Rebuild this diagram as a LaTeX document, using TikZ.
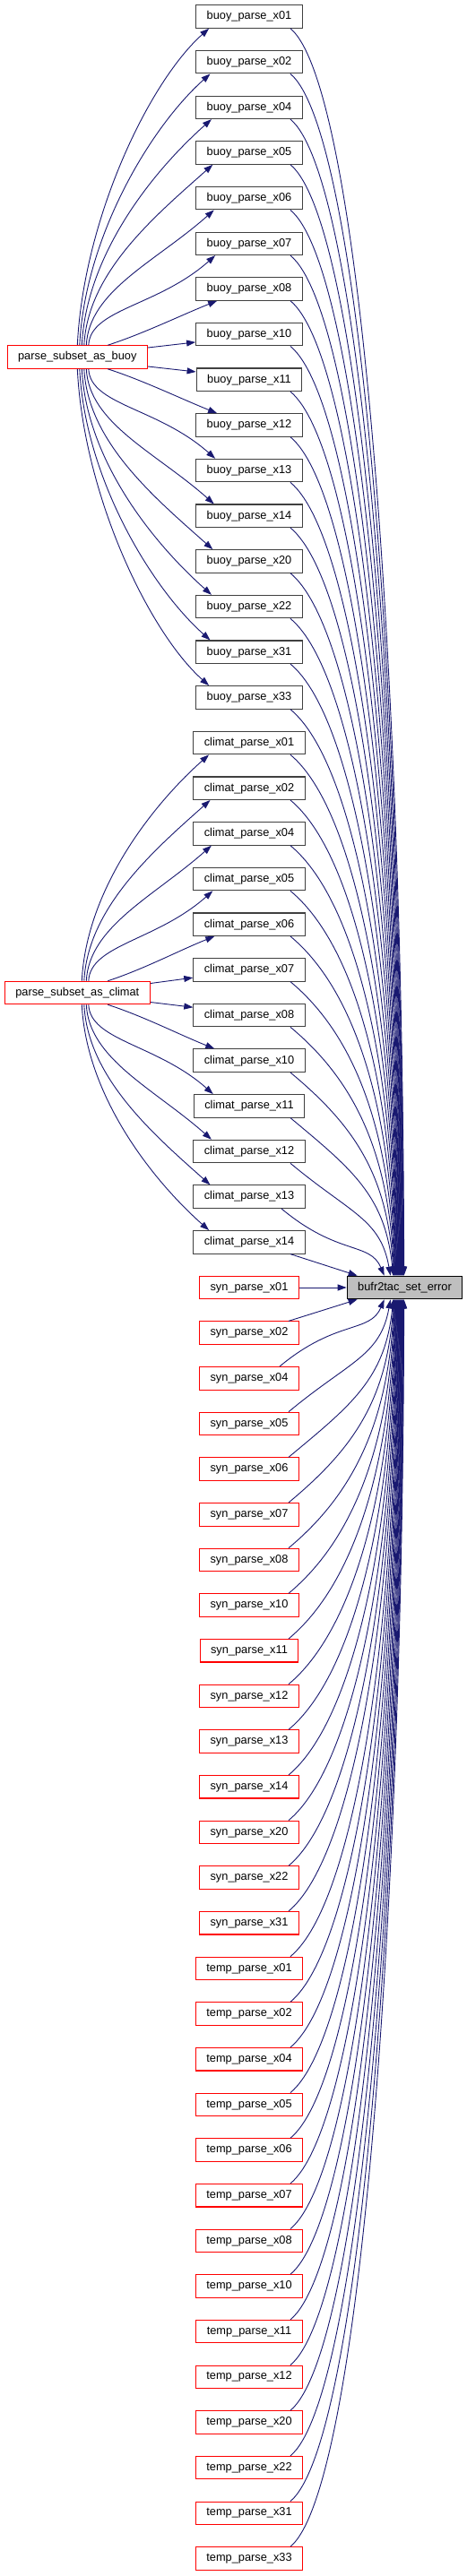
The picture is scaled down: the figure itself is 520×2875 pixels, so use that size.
\documentclass[tikz,border=0pt]{standalone}
\usepackage{fontspec}
\setmainfont{Liberation Sans}
\usetikzlibrary{arrows.meta,calc}
\definecolor{Edge}{HTML}{191970}
\definecolor{BoxLine}{HTML}{404040}
\definecolor{FnRed}{HTML}{FF0000}
\definecolor{SelFill}{HTML}{BFBFBF}
\tikzset{
  fn/.style={draw=BoxLine,line width=1.1pt,fill=white,text=black,minimum height=25.5pt,inner xsep=12pt,inner ysep=0pt,font=\fontsize{12.8}{15}\selectfont},
  fnred/.style={fn,draw=FnRed},
  fnsel/.style={fn,draw=black,fill=SelFill},
  call/.style={-{Triangle[length=10pt,width=7pt]},line width=0.9pt,draw=Edge}
}
\begin{document}
\begin{tikzpicture}[x=1pt,y=-1pt]
  \useasboundingbox (0,0) rectangle (520,2875);

  \foreach \n [count=\i from 0] in {01,02,04,05,06,07,08,10,11,12,13,14,20,22,31,33}
    \node[fn] (buoy\n) at (278,{18.5+50.66*\i}) {buoy\_parse\_x\n};
  \foreach \n [count=\i from 16] in {01,02,04,05,06,07,08,10,11,12,13,14}
    \node[fn] (climat\n) at (278,{18.5+50.66*\i}) {climat\_parse\_x\n};
  \foreach \n [count=\i from 28] in {01,02,04,05,06,07,08,10,11,12,13,14,20,22,31}
    \node[fnred] (syn\n) at (278,{18.5+50.66*\i}) {syn\_parse\_x\n};
  \foreach \n [count=\i from 43] in {01,02,04,05,06,07,08,10,11,12,20,22,31,33}
    \node[fnred] (temp\n) at (278,{18.5+50.66*\i}) {temp\_parse\_x\n};

  \node[fnred] (subbuoy) at (86.3,398.5) {parse\_subset\_as\_buoy};
  \node[fnred] (subclimat) at (86.3,1108) {parse\_subset\_as\_climat};
  \node[fnsel] (seterr) at (451.5,{18.5+50.66*28}) {bufr2tac\_set\_error};

  % parse_subset_as_buoy fan
  \foreach \n [count=\i] in {01,02,04,05,06,07} {
    \pgfmathsetmacro\dd{8.5-\i}
    \pgfmathsetmacro\sxo{(7.5-\dd)*2.5}
    \pgfmathsetmacro\exo{15+(7.5-\dd)*1.4}
    \pgfmathsetmacro\ddy{50.66*\dd-25.2}
    \pgfmathsetmacro\ddx{133+\exo-\sxo}
    \draw[call] ($(subbuoy.north)+(\sxo,0)$) .. controls +(0.02*\ddy,-0.4*\ddy) and +(-0.45*\ddx,0.4*\ddx) .. ($(buoy\n.south west)+(\exo,0)$);
  }
  \draw[call] ($(subbuoy.north)+(34,0)$) .. controls +(40,-13) and +(-40,16) .. ($(buoy08.south west)+(24,0)$);
  \draw[call] ($(subbuoy.east)+(0,-10.5)$) -- ($(buoy10.west)+(0,8.8)$);
  \draw[call] ($(subbuoy.east)+(0,10.5)$) -- ($(buoy11.west)+(0,-8.8)$);
  \draw[call] ($(subbuoy.south)+(34,0)$) .. controls +(40,13) and +(-40,-16) .. ($(buoy12.north west)+(24,0)$);
  \foreach \n [count=\i] in {13,14,20,22,31,33} {
    \pgfmathsetmacro\dd{1.5+\i}
    \pgfmathsetmacro\sxo{(7.5-\dd)*2.5}
    \pgfmathsetmacro\exo{15+(7.5-\dd)*1.4}
    \pgfmathsetmacro\ddy{50.66*\dd-25.2}
    \pgfmathsetmacro\ddx{133+\exo-\sxo}
    \draw[call] ($(subbuoy.south)+(\sxo,0)$) .. controls +(0.02*\ddy,0.4*\ddy) and +(-0.45*\ddx,-0.4*\ddx) .. ($(buoy\n.north west)+(\exo,0)$);
  }

  % parse_subset_as_climat fan
  \foreach \n [count=\i] in {01,02,04,05} {
    \pgfmathsetmacro\dd{6.5-\i}
    \pgfmathsetmacro\sxo{(7.5-\dd)*2.5}
    \pgfmathsetmacro\exo{15+(7.5-\dd)*1.4}
    \pgfmathsetmacro\ddy{50.66*\dd-25.2}
    \pgfmathsetmacro\ddx{130+\exo-\sxo}
    \draw[call] ($(subclimat.north)+(\sxo,0)$) .. controls +(0.02*\ddy,-0.4*\ddy) and +(-0.45*\ddx,0.4*\ddx) .. ($(climat\n.south west)+(\exo,0)$);
  }
  \draw[call] ($(subclimat.north)+(34,0)$) .. controls +(40,-13) and +(-40,16) .. ($(climat06.south west)+(24,0)$);
  \draw[call] ($(subclimat.east)+(0,-10.5)$) -- ($(climat07.west)+(0,8.8)$);
  \draw[call] ($(subclimat.east)+(0,10.5)$) -- ($(climat08.west)+(0,-8.8)$);
  \draw[call] ($(subclimat.south)+(34,0)$) .. controls +(40,13) and +(-40,-16) .. ($(climat10.north west)+(24,0)$);
  \foreach \n [count=\i] in {11,12,13,14} {
    \pgfmathsetmacro\dd{1.5+\i}
    \pgfmathsetmacro\sxo{(7.5-\dd)*2.5}
    \pgfmathsetmacro\exo{15+(7.5-\dd)*1.4}
    \pgfmathsetmacro\ddy{50.66*\dd-25.2}
    \pgfmathsetmacro\ddx{130+\exo-\sxo}
    \draw[call] ($(subclimat.south)+(\sxo,0)$) .. controls +(0.02*\ddy,0.4*\ddy) and +(-0.45*\ddx,-0.4*\ddx) .. ($(climat\n.north west)+(\exo,0)$);
  }

  % everything -> bufr2tac_set_error
  \foreach \n [count=\i from 0] in {01,02,04,05,06,07,08,10,11,12,13,14,20,22,31,33} {
    \pgfmathsetmacro\dd{28-\i}
    \pgfmathsetmacro\exo{52+(\dd-4)*0.5}
    \pgfmathsetmacro\ddx{\exo+64}
    \pgfmathsetmacro\ddy{50.66*\dd-25.4}
    \draw[call] ($(buoy\n.south)+(46,0)$) .. controls +(0.6*\ddx,0.5*\ddx) and +(-0.3*\ddx/\dd,-0.5*\ddy) .. ($(seterr.north west)+(\exo,0)$);
  }
  \foreach \n [count=\i from 16] in {01,02,04,05,06,07,08,10,11,12,13} {
    \pgfmathsetmacro\dd{28-\i}
    \pgfmathsetmacro\sxo{ifthenelse(\dd<2.5,36,46)}
    \pgfmathsetmacro\exo{ifthenelse(\dd<2.5,42,ifthenelse(\dd<3.5,49,52+(\dd-4)*0.5))}
    \pgfmathsetmacro\ddx{\exo+64}
    \pgfmathsetmacro\ddy{50.66*\dd-25.4}
    \draw[call] ($(climat\n.south)+(\sxo,0)$) .. controls +(0.6*\ddx,0.5*\ddx) and +(-0.3*\ddx/\dd,-0.5*\ddy) .. ($(seterr.north west)+(\exo,0)$);
  }
  \draw[call] ($(climat14.south)+(46,0)$) -- ($(seterr.north west)+(12,0)$);
  \draw[call] (syn01) -- (seterr);
  \draw[call] ($(syn02.north)+(44,0)$) -- ($(seterr.south west)+(12,0)$);
  \foreach \n [count=\i from 30] in {04,05,06,07,08,10,11,12,13,14,20,22,31} {
    \pgfmathsetmacro\dd{\i-28}
    \pgfmathsetmacro\sxo{ifthenelse(\dd<2.5,34,44)}
    \pgfmathsetmacro\exo{ifthenelse(\dd<2.5,42,ifthenelse(\dd<3.5,49,52+(\dd-4)*0.5))}
    \pgfmathsetmacro\ddx{\exo+64}
    \pgfmathsetmacro\ddy{50.66*\dd-25.4}
    \draw[call] ($(syn\n.north)+(\sxo,0)$) .. controls +(0.6*\ddx,-0.5*\ddx) and +(-0.3*\ddx/\dd,0.5*\ddy) .. ($(seterr.south west)+(\exo,0)$);
  }
  \foreach \n [count=\i from 43] in {01,02,04,05,06,07,08,10,11,12,20,22,31,33} {
    \pgfmathsetmacro\dd{\i-28}
    \pgfmathsetmacro\exo{52+(\dd-4)*0.5}
    \pgfmathsetmacro\ddx{\exo+64}
    \pgfmathsetmacro\ddy{50.66*\dd-25.4}
    \draw[call] ($(temp\n.north)+(46,0)$) .. controls +(0.6*\ddx,-0.5*\ddx) and +(-0.3*\ddx/\dd,0.5*\ddy) .. ($(seterr.south west)+(\exo,0)$);
  }
\end{tikzpicture}
\end{document}
